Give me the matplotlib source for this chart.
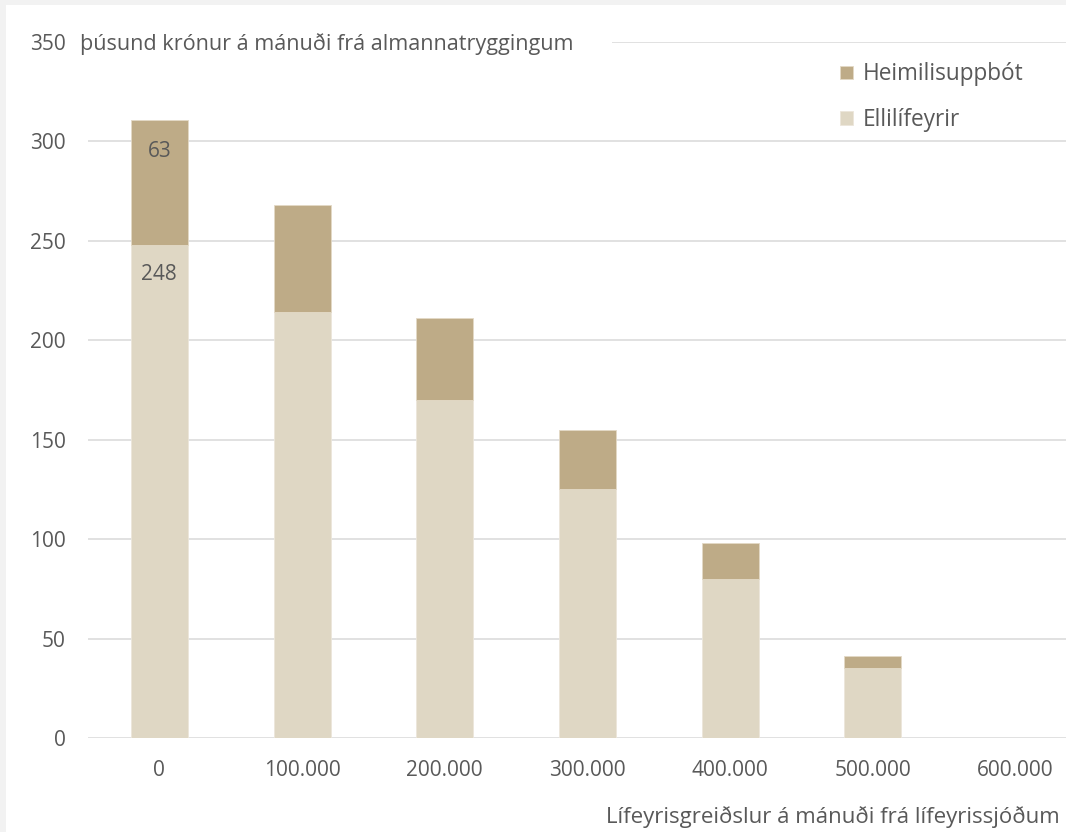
import matplotlib
matplotlib.use('Agg')
import matplotlib.pyplot as plt
from matplotlib.patches import Rectangle

# lífeyrisgreiðslur (kr/mán) og greiðslur frá TR í þús. kr.
categories = ['0', '100.000', '200.000', '300.000', '400.000', '500.000', '600.000']
ellilifeyrir = [248, 214, 170, 125, 80, 35, 0]
heimilisuppbot = [63, 54, 41, 30, 18, 6, 0]
yticks = [0, 50, 100, 150, 200, 250, 300, 350]

DARK = '#beab87'
LIGHT = '#dfd7c4'
TXT = '#595959'

plt.rcParams['font.family'] = ['Open Sans', 'DejaVu Sans']

fig = plt.figure(figsize=(10.66, 8.32), dpi=100)
fig.patch.set_facecolor('#f2f2f2')
fig.patches.append(Rectangle((6/1066, -0.01), 1.1, 1.01 - 5/832, transform=fig.transFigure,
                             facecolor='white', edgecolor='none', zorder=-10))

ax = fig.add_axes([88/1066, 1 - 738/832, 999/1066, 696/832])
ax.set_facecolor('none')

x = range(len(categories))
b1 = ax.bar(x, ellilifeyrir, 0.4, color=LIGHT, edgecolor='#ece6da', linewidth=0.6,
            label='Ellilífeyrir', zorder=2)
b2 = ax.bar(x, heimilisuppbot, 0.4, bottom=ellilifeyrir, color=DARK, edgecolor='#e3d9c6',
            linewidth=0.6, label='Heimilisuppbót', zorder=2)

# gildi á fyrstu súlunni, innan við efri brún hvers hluta
ax.annotate(str(ellilifeyrir[0]), (0, ellilifeyrir[0]), xytext=(0, -21.5),
            textcoords='offset points', ha='center', va='center', fontsize=15, color=TXT)
ax.annotate(str(heimilisuppbot[0]), (0, ellilifeyrir[0] + heimilisuppbot[0]), xytext=(0, -23),
            textcoords='offset points', ha='center', va='center', fontsize=15, color=TXT)

ax.set_xlim(-0.5, 6.5)
ax.set_ylim(0, 350)
ax.set_yticks(yticks)
ax.set_xticks(list(x))
ax.set_xticklabels(categories)
ax.grid(axis='y', color='#d9d9d9', linewidth=1.1, zorder=0)
ax.set_axisbelow(True)
for s in ax.spines.values():
    s.set_visible(False)
ax.tick_params(length=0, labelsize=15, labelcolor=TXT)
ax.tick_params(axis='y', pad=16)
ax.tick_params(axis='x', pad=16)
for lab in ax.get_xticklabels():
    lab.set_clip_on(False)

# hvítur reitur undir titlinum, felur efstu hnitalínuna
fig.patches.append(Rectangle((72/1066, 1 - 58/832), 540/1066, 30/832, transform=fig.transFigure,
                             facecolor='white', edgecolor='none', zorder=1))
fig.text(80/1066, 1 - 44/832, 'þúsund krónur á mánuði frá almannatryggingum',
         ha='left', va='center', fontsize=15.6, color=TXT, zorder=5)
fig.text(1060/1066, 1 - 817/832, 'Lífeyrisgreiðslur á mánuði frá lífeyrissjóðum',
         ha='right', va='center', fontsize=16, color=TXT)

h, l = ax.get_legend_handles_labels()
fig.legend(h[::-1], l[::-1], loc='upper left', bbox_to_anchor=(820/1066, 1 - 42/832),
           frameon=False, fontsize=16.3, labelcolor=TXT, handlelength=0.55, handleheight=0.55,
           handletextpad=0.45, labelspacing=0.95)

fig.savefig('out.png', dpi=100, facecolor=fig.get_facecolor())
